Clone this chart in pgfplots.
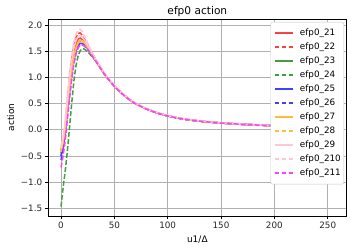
\documentclass[border=0pt]{standalone}
\usepackage{fontspec}
\setmainfont{DejaVu Sans}
\usepackage{pgfplots}
\usepackage{pgfplotstable}
\pgfplotsset{compat=1.18}
\definecolor{mplred}{RGB}{255,64,64}
\definecolor{mplgreen}{RGB}{64,160,64}
\definecolor{mplblue}{RGB}{64,64,255}
\definecolor{mplorange}{RGB}{255,188,64}
\definecolor{mplpink}{RGB}{255,200,210}
\definecolor{mplmagenta}{RGB}{255,64,255}
\definecolor{gridgray}{HTML}{B0B0B0}
\definecolor{legframe}{HTML}{C8C8C8}
\pgfplotstableread{
x    a21   a22   a23   a24   a25   a26   a27   a28   a29   a210  a211
0   -0.45 -0.40 -0.50 -1.47 -0.50 -0.58 -0.42 -0.38 -0.36 -0.32 -0.72
2   -0.25 -0.20 -0.30 -1.10 -0.32 -0.38 -0.25 -0.20 -0.16 -0.12 -0.50
4    0.05  0.10 -0.02 -0.78 -0.05 -0.10  0.00  0.03  0.14  0.20 -0.20
6    0.47  0.55  0.38 -0.40  0.33  0.28  0.40  0.42  0.58  0.65  0.20
8    0.88  1.00  0.78  0.05  0.72  0.67  0.80  0.81  0.98  1.08  0.60
10   1.20  1.35  1.10  0.50  1.05  1.00  1.10  1.10  1.30  1.42  0.95
12   1.47  1.60  1.37  0.92  1.32  1.28  1.38  1.37  1.55  1.67  1.25
14   1.64  1.76  1.55  1.22  1.50  1.46  1.56  1.55  1.70  1.82  1.45
16   1.73  1.84  1.65  1.41  1.61  1.57  1.67  1.65  1.78  1.90  1.57
18   1.75  1.85  1.70  1.51  1.65  1.62  1.71  1.70  1.80  1.92  1.62
20   1.72  1.80  1.70  1.55  1.65  1.62  1.70  1.69  1.77  1.87  1.62
22   1.67  1.73  1.66  1.54  1.62  1.60  1.66  1.65  1.71  1.79  1.60
25   1.58  1.62  1.58  1.49  1.55  1.54  1.57  1.57  1.61  1.66  1.54
28   1.48  1.50  1.48  1.42  1.46  1.45  1.47  1.47  1.50  1.53  1.45
31   1.38  1.39  1.38  1.35  1.37  1.36  1.37  1.37  1.39  1.41  1.36
35   1.25  1.25  1.25  1.24  1.24  1.24  1.24  1.24  1.26  1.27  1.24
40   1.09  1.09  1.09  1.09  1.08  1.08  1.08  1.08  1.10  1.10  1.08
45   0.955 0.955 0.955 0.955 0.950 0.950 0.950 0.950 0.965 0.965 0.950
50   0.835 0.835 0.835 0.835 0.830 0.830 0.830 0.830 0.845 0.845 0.830
55   0.735 0.735 0.735 0.735 0.730 0.730 0.730 0.730 0.742 0.742 0.730
60   0.645 0.645 0.645 0.645 0.640 0.640 0.640 0.640 0.652 0.652 0.640
65   0.565 0.565 0.565 0.565 0.560 0.560 0.560 0.560 0.571 0.571 0.560
70   0.498 0.498 0.498 0.498 0.495 0.495 0.495 0.495 0.505 0.505 0.495
80   0.398 0.398 0.398 0.398 0.395 0.395 0.395 0.395 0.404 0.404 0.395
90   0.322 0.322 0.322 0.322 0.320 0.320 0.320 0.320 0.328 0.328 0.320
100  0.264 0.264 0.264 0.264 0.262 0.262 0.262 0.262 0.269 0.269 0.262
110  0.221 0.221 0.221 0.221 0.220 0.220 0.220 0.220 0.226 0.226 0.220
120  0.188 0.188 0.188 0.188 0.187 0.187 0.187 0.187 0.192 0.192 0.187
135  0.153 0.153 0.153 0.153 0.152 0.152 0.152 0.152 0.157 0.157 0.152
150  0.128 0.128 0.128 0.128 0.127 0.127 0.127 0.127 0.131 0.131 0.127
170  0.103 0.103 0.103 0.103 0.102 0.102 0.102 0.102 0.106 0.106 0.102
190  0.085 0.085 0.085 0.085 0.084 0.084 0.084 0.084 0.088 0.088 0.084
210  0.071 0.071 0.071 0.071 0.070 0.070 0.070 0.070 0.073 0.073 0.070
230  0.059 0.059 0.059 0.059 0.058 0.058 0.058 0.058 0.061 0.061 0.058
255  0.048 0.048 0.048 0.048 0.047 0.047 0.047 0.047 0.050 0.050 0.047
}\datatable
\begin{document}
\begin{tikzpicture}
\begin{axis}[
  scale only axis,
  width=298.7bp, height=197bp,
  xmin=-12.2, xmax=267.8,
  ymin=-1.649, ymax=2.115,
  xtick={0,50,100,150,200,250},
  ytick={-1.5,-1,-0.5,0,0.5,1,1.5,2},
  yticklabels={−1.5,−1.0,−0.5,0.0,0.5,1.0,1.5,2.0},
  /pgf/number format/assume math mode=true,
  tick label style={font=\fontsize{8.8bp}{10bp}\selectfont, text=black!85},
  xticklabel style={inner sep=0bp, anchor=north, yshift=-2.5bp},
  yticklabel style={inner sep=0bp, anchor=east, xshift=-2.5bp},
  tick align=outside,
  major tick length=3.1bp,
  tick style={line width=0.7bp, black},
  xtick pos=bottom, ytick pos=left,
  axis line style={line width=0.7bp},
  grid=major,
  major grid style={line width=0.7bp, gridgray},
  title={efp0 action},
  every axis title shift=0pt,
  title style={at={(axis description cs:0.5,1.0371)}, anchor=center, inner sep=0bp, font=\fontsize{10.6bp}{12bp}\selectfont},
  xlabel={u1/Δ},
  xlabel style={at={(axis description cs:0.5,-0.1218)}, anchor=center, inner sep=0bp, font=\fontsize{9bp}{10bp}\selectfont},
  ylabel={action},
  ylabel style={at={(axis description cs:-0.1249,0.5)}, anchor=center, inner sep=0bp, font=\fontsize{9bp}{10bp}\selectfont},
  legend cell align=left,
  legend image code/.code={\draw[#1, line width=1.6bp] (0bp,0bp) -- (18bp,0bp);},
  legend style={at={(axis description cs:0.991,0.985)}, anchor=north east,
    draw=legframe, rounded corners=2bp, fill=white,
    font=\fontsize{8.8bp}{10bp}\selectfont,
    inner xsep=3bp, inner ysep=6.75bp, row sep=5.5bp, column sep=0bp,
    nodes={inner xsep=0bp, inner ysep=0bp, text height=6.5bp, text depth=2bp}},
  sl/.style={line width=1.5bp, solid},
  dl/.style={line width=1.5bp, dash pattern=on 4.9bp off 2.1bp},
]
\addplot[mplred, sl] table[x=x, y=a21] {\datatable};
\addlegendentry{\hspace{6.6bp}efp0\_21}
\addplot[mplred, dl] table[x=x, y=a22] {\datatable};
\addlegendentry{\hspace{6.6bp}efp0\_22}
\addplot[mplgreen, sl] table[x=x, y=a23] {\datatable};
\addlegendentry{\hspace{6.6bp}efp0\_23}
\addplot[mplgreen, dl] table[x=x, y=a24] {\datatable};
\addlegendentry{\hspace{6.6bp}efp0\_24}
\addplot[mplblue, sl] table[x=x, y=a25] {\datatable};
\addlegendentry{\hspace{6.6bp}efp0\_25}
\addplot[mplblue, dl] table[x=x, y=a26] {\datatable};
\addlegendentry{\hspace{6.6bp}efp0\_26}
\addplot[mplorange, sl] table[x=x, y=a27] {\datatable};
\addlegendentry{\hspace{6.6bp}efp0\_27}
\addplot[mplorange, dl] table[x=x, y=a28] {\datatable};
\addlegendentry{\hspace{6.6bp}efp0\_28}
\addplot[mplpink, sl] table[x=x, y=a29] {\datatable};
\addlegendentry{\hspace{6.6bp}efp0\_29}
\addplot[mplpink, dl] table[x=x, y=a210] {\datatable};
\addlegendentry{\hspace{6.6bp}efp0\_210}
\addplot[mplmagenta, dl] table[x=x, y=a211] {\datatable};
\addlegendentry{\hspace{6.6bp}efp0\_211}
\coordinate (bl) at (rel axis cs:0,0);
\coordinate (tr) at (rel axis cs:1,1);
\end{axis}
\pgfresetboundingbox
\path[use as bounding box] ([shift={(-48bp,-35bp)}]bl) rectangle ([shift={(7.3bp,19bp)}]tr);
\end{tikzpicture}
\end{document}
